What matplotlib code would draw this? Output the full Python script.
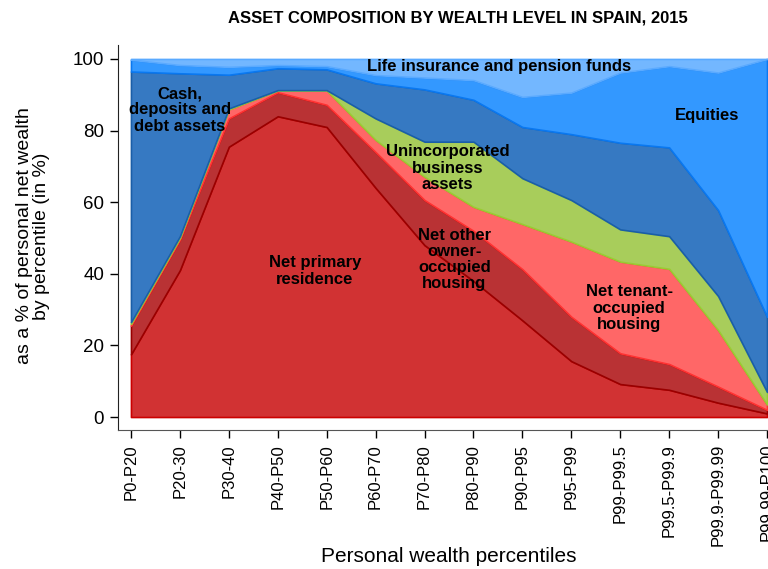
import numpy as np
import matplotlib.pyplot as plt

plt.rcParams['font.family'] = ['Liberation Sans', 'DejaVu Sans']

percentiles = ['P0-P20', 'P20-30', 'P30-40', 'P40-P50', 'P50-P60', 'P60-P70',
               'P70-P80', 'P80-P90', 'P90-P95', 'P95-P99', 'P99-P99.5',
               'P99.5-P99.9', 'P99.9-P99.99', 'P99.99-P100']

# shares of personal net wealth (%), bottom layer first
primary_res = [17.5, 41.0, 75.5, 84.0, 81.0, 64.0, 48.0, 38.0, 27.0, 15.6, 9.2, 7.6, 4.0, 1.0]
other_owner = [8.0, 8.5, 7.9, 6.7, 6.2, 10.0, 12.6, 14.0, 14.3, 12.4, 8.6, 7.2, 4.5, 1.0]
tenant_occ = [0.5, 0.5, 2.5, 0.5, 4.0, 3.4, 6.5, 6.7, 12.6, 21.0, 25.6, 26.6, 15.8, 1.5]
business = [0.5, 0.5, 0.3, 0.1, 0.1, 6.0, 9.8, 18.2, 12.8, 11.6, 9.0, 9.1, 9.5, 3.5]
cash_dep = [70.0, 45.5, 9.4, 6.1, 5.8, 9.8, 14.6, 11.7, 14.3, 18.4, 24.2, 24.8, 24.0, 21.0]
equities = [3.3, 2.3, 2.2, 0.9, 0.9, 2.3, 3.3, 5.5, 8.4, 11.6, 19.6, 22.7, 38.4, 72.0]
life_pens = [0.2, 1.7, 2.2, 1.7, 2.0, 4.5, 5.2, 5.9, 10.6, 9.4, 3.8, 2.0, 3.8, 0.0]

layers = [primary_res, other_owner, tenant_occ, business, cash_dep, equities, life_pens]
fills = ['#d13233', '#b93234', '#ff6767', '#a8cd5b', '#3679c2', '#3398ff', '#73b7ff']
edges = ['#cc0000', '#990000', '#ff3333', '#99cc33', '#1a5ea8', '#0a78f0', '#5aaaff']

x = np.arange(len(percentiles))

fig = plt.figure(figsize=(7.68, 5.69), dpi=100)
ax = fig.add_axes([118 / 768, 139 / 569, 650 / 768, 385 / 569])

bottom = np.zeros(len(x))
for vals, fc, ec in zip(layers, fills, edges):
    top = bottom + np.array(vals)
    ax.fill_between(x, bottom, top, facecolor=fc, edgecolor=ec, linewidth=1.2)
    bottom = top

ax.set_xlim(-0.265, 13.02)
ax.set_ylim(-3.63, 103.9)

ax.set_yticks([0, 20, 40, 60, 80, 100])
ax.set_xticks(x)
ax.set_xticklabels(percentiles, rotation=90, fontsize=12)
ax.tick_params(axis='y', labelsize=13.5, length=6, width=1, pad=4)
ax.tick_params(axis='x', length=6, width=1, pad=4)

for s in ['top', 'right']:
    ax.spines[s].set_visible(False)
ax.spines['left'].set_color('#222222')
ax.spines['bottom'].set_color('#555555')

# area labels
lab = dict(fontsize=12, fontweight='bold', ha='center', va='center', linespacing=1.1)
ax.text(7.53, 98.0, 'Life insurance and pension funds', **lab)
ax.text(11.78, 84.1, 'Equities', **lab)
ax.text(1.0, 85.8, 'Cash,\ndeposits and\ndebt assets', **lab)
ax.text(6.47, 69.5, 'Unincorporated\nbusiness\nassets', **lab)
ax.text(6.61, 44.0, 'Net other\nowner-\noccupied\nhousing', **lab)
ax.text(3.76, 40.8, 'Net primary\nresidence', **lab)
ax.text(10.18, 30.4, 'Net tenant-\noccupied\nhousing', **lab)

fig.text(458 / 768, 1 - 18 / 569, 'ASSET COMPOSITION BY WEALTH LEVEL IN SPAIN, 2015',
         fontsize=12, fontweight='bold', ha='center', va='center')
fig.text(449 / 768, 1 - 556 / 569, 'Personal wealth percentiles',
         fontsize=15, ha='center', va='center')
fig.text(33 / 768, 1 - 236 / 569, 'as a % of personal net wealth\nby percentile (in %)',
         fontsize=14, ha='center', va='center', rotation=90, linespacing=1.0)

fig.savefig('out.png', dpi=100)
